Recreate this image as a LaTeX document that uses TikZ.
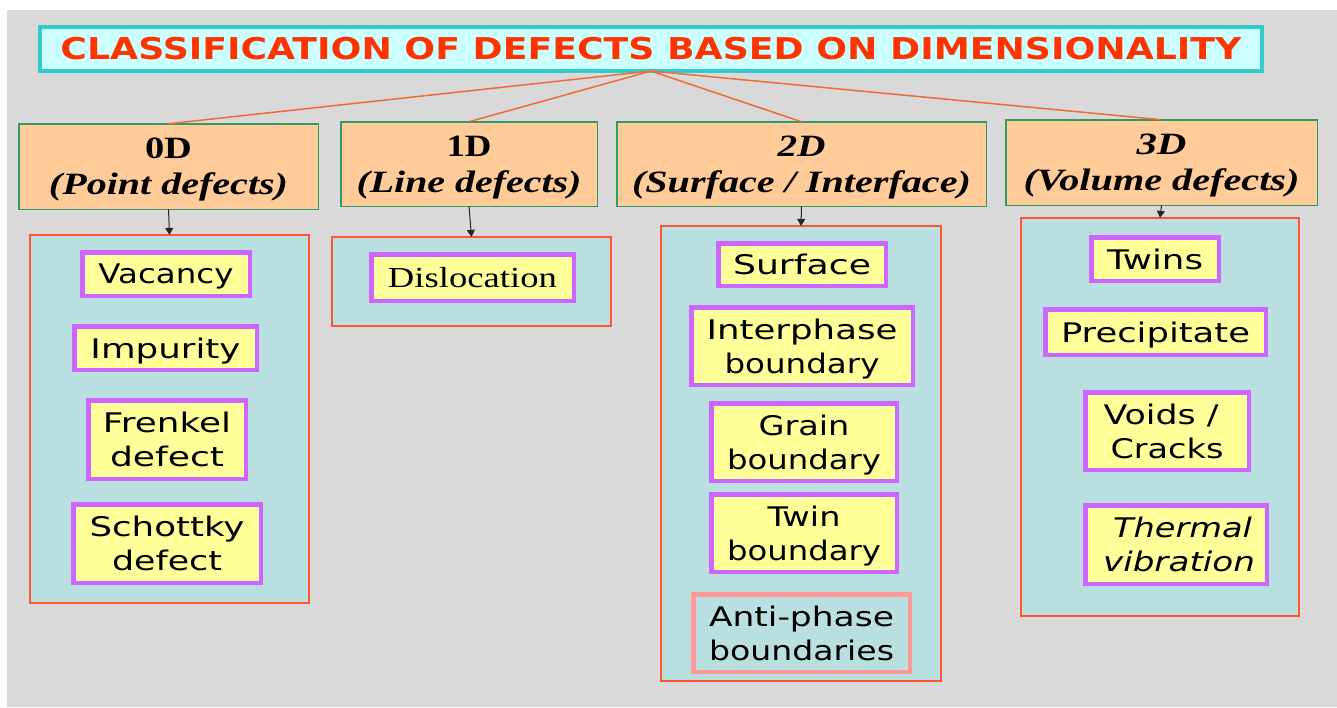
\documentclass[tikz,border=0pt]{standalone}
\usepackage{fontspec}
\usepackage{graphicx}
\setmainfont{Liberation Serif}
\newfontfamily\comic{DejaVu Sans}
\usetikzlibrary{arrows.meta}
\definecolor{bggray}{HTML}{D9D9D9}
\definecolor{titlefill}{HTML}{CCFFFF}
\definecolor{titledraw}{HTML}{33CCCC}
\definecolor{titletext}{HTML}{FF3300}
\definecolor{catfill}{HTML}{FFCC99}
\definecolor{catdraw}{HTML}{339966}
\definecolor{linkcol}{HTML}{F26B3A}
\definecolor{grpfill}{HTML}{BADFE1}
\definecolor{grpdraw}{HTML}{FF5533}
\definecolor{itemfill}{HTML}{FFFF99}
\definecolor{itemdraw}{HTML}{CC66FF}
\definecolor{antidraw}{HTML}{FF9999}
\newcommand\fw[2]{\resizebox{#1pt}{\height}{#2}}
\begin{document}
\begin{tikzpicture}[x=1pt,y=-1pt,
  box/.style={rectangle, inner sep=0pt, outer sep=0pt, align=center},
  titlebox/.style={box, fill=titlefill, draw=titledraw, line width=4pt, text=titletext, font=\comic\bfseries\fontsize{30}{36}\selectfont},
  catbox/.style={box, fill=catfill, draw=catdraw, line width=1.5pt, text depth=0pt, font=\bfseries\fontsize{31}{36}\selectfont},
  grpbox/.style={box, fill=grpfill, draw=grpdraw, line width=1.8pt},
  itembox/.style={box, fill=itemfill, draw=itemdraw, line width=4.5pt, text depth=0pt, font=\comic\fontsize{27}{34}\selectfont},
  antibox/.style={itembox, fill=grpfill, draw=antidraw},
  serifitem/.style={itembox, font=\fontsize{29}{34}\selectfont},
  link/.style={draw=linkcol, line width=1.5pt},
  arr/.style={draw=black!85, line width=1pt, -{Triangle[length=7pt,width=8pt]}},
]
\useasboundingbox (0,0) rectangle (1337,707);
\fill[white] (0,0) rectangle (1337,707);
\fill[bggray] (7,10) rectangle (1337,707);

% title
\node[titlebox, minimum width=1222pt, minimum height=44pt] (title) at (651,49)
  {\fw{1181}{CLASSIFICATION OF DEFECTS BASED ON DIMENSIONALITY}};

% category boxes
\node[catbox, minimum width=299.5pt, minimum height=85.5pt] (c0) at (168.5,166.5)
  {\fw{47}{0D}\\\fw{239}{\itshape (Point defects)}};
\node[catbox, minimum width=256.5pt, minimum height=84.5pt] (c1) at (469,164)
  {\fw{45}{1D}\\\fw{225}{\itshape (Line defects)}};
\node[catbox, minimum width=369.5pt, minimum height=84.5pt] (c2) at (801.5,164)
  {\fw{48}{\itshape 2D}\\\fw{339}{\itshape (Surface / Interface)}};
\node[catbox, minimum width=311.5pt, minimum height=85.5pt] (c3) at (1161.5,162.5)
  {\fw{50}{\itshape 3D}\\\fw{276}{\itshape (Volume defects)}};

% links from title
\draw[link] (title.south) -- (c0.north);
\draw[link] (title.south) -- (c1.north);
\draw[link] (title.south) -- (c2.north);
\draw[link] (title.south) -- (c3.north);

% group boxes
\node[grpbox, minimum width=279.2pt, minimum height=368.2pt] (g0) at (169.5,419) {};
\node[grpbox, minimum width=279.2pt, minimum height=89.2pt] (g1) at (471.5,281.5) {};
\node[grpbox, minimum width=280.2pt, minimum height=455.2pt] (g2) at (801,453.5) {};
\node[grpbox, minimum width=278.2pt, minimum height=398.2pt] (g3) at (1160,417) {};

% arrows
\draw[arr] (c0.south) -- (g0.north);
\draw[arr] (c1.south) -- (g1.north);
\draw[arr] (c2.south) -- (g2.north);
\draw[arr] (c3.south) -- (g3.north);

% 0D items
\node[itembox, minimum width=167.5pt, minimum height=43.5pt] (vac) at (166,274) {\fw{135}{Vacancy}};
\node[itembox, minimum width=182.5pt, minimum height=43.5pt] (imp) at (165.5,348) {\fw{150}{Impurity}};
\node[itembox, minimum width=157.5pt, minimum height=78.5pt] (fre) at (167,439.5) {\fw{128}{Frenkel}\\\fw{114}{defect}};
\node[itembox, minimum width=187.5pt, minimum height=78.5pt] (sch) at (167,543.5) {\fw{155}{Schottky}\\\fw{110}{defect}};

% 1D items
\node[serifitem, minimum width=202.5pt, minimum height=46.5pt] (dis) at (472.5,277.5) {\fw{169}{Dislocation}};

% 2D items
\node[itembox, minimum width=167.5pt, minimum height=42.5pt] (sur) at (802,264.5) {\fw{138}{Surface}};
\node[itembox, minimum width=221.5pt, minimum height=77.5pt] (int) at (802,346) {\fw{191}{Interphase}\\\fw{155}{boundary}};
\node[itembox, minimum width=185.5pt, minimum height=77.5pt] (gra) at (804,442) {\fw{91}{Grain}\\\fw{154}{boundary}};
\node[itembox, minimum width=185.5pt, minimum height=77.5pt] (twb) at (804,533) {\fw{73}{Twin}\\\fw{154}{boundary}};
\node[antibox, minimum width=216.5pt, minimum height=77.5pt] (apb) at (801.5,633) {\fw{185}{Anti-phase}\\\fw{185}{boundaries}};

% 3D items
\node[itembox, minimum width=127.5pt, minimum height=43.5pt] (twi) at (1155,259) {\fw{96}{Twins}};
\node[itembox, minimum width=220.5pt, minimum height=45.5pt] (pre) at (1155.5,332) {\fw{189}{Precipitate}};
\node[itembox, minimum width=163.5pt, minimum height=77.5pt] (voi) at (1167,431) {\fw{115}{Voids /}\hspace*{12pt}\\\fw{113}{Cracks}};
\node[itembox, minimum width=181.5pt, minimum height=78.5pt] (the) at (1176,544.5) {\hspace*{13pt}\fw{139}{\itshape Thermal}\\\hspace*{6pt}\fw{152}{\itshape vibration}};
\end{tikzpicture}
\end{document}
